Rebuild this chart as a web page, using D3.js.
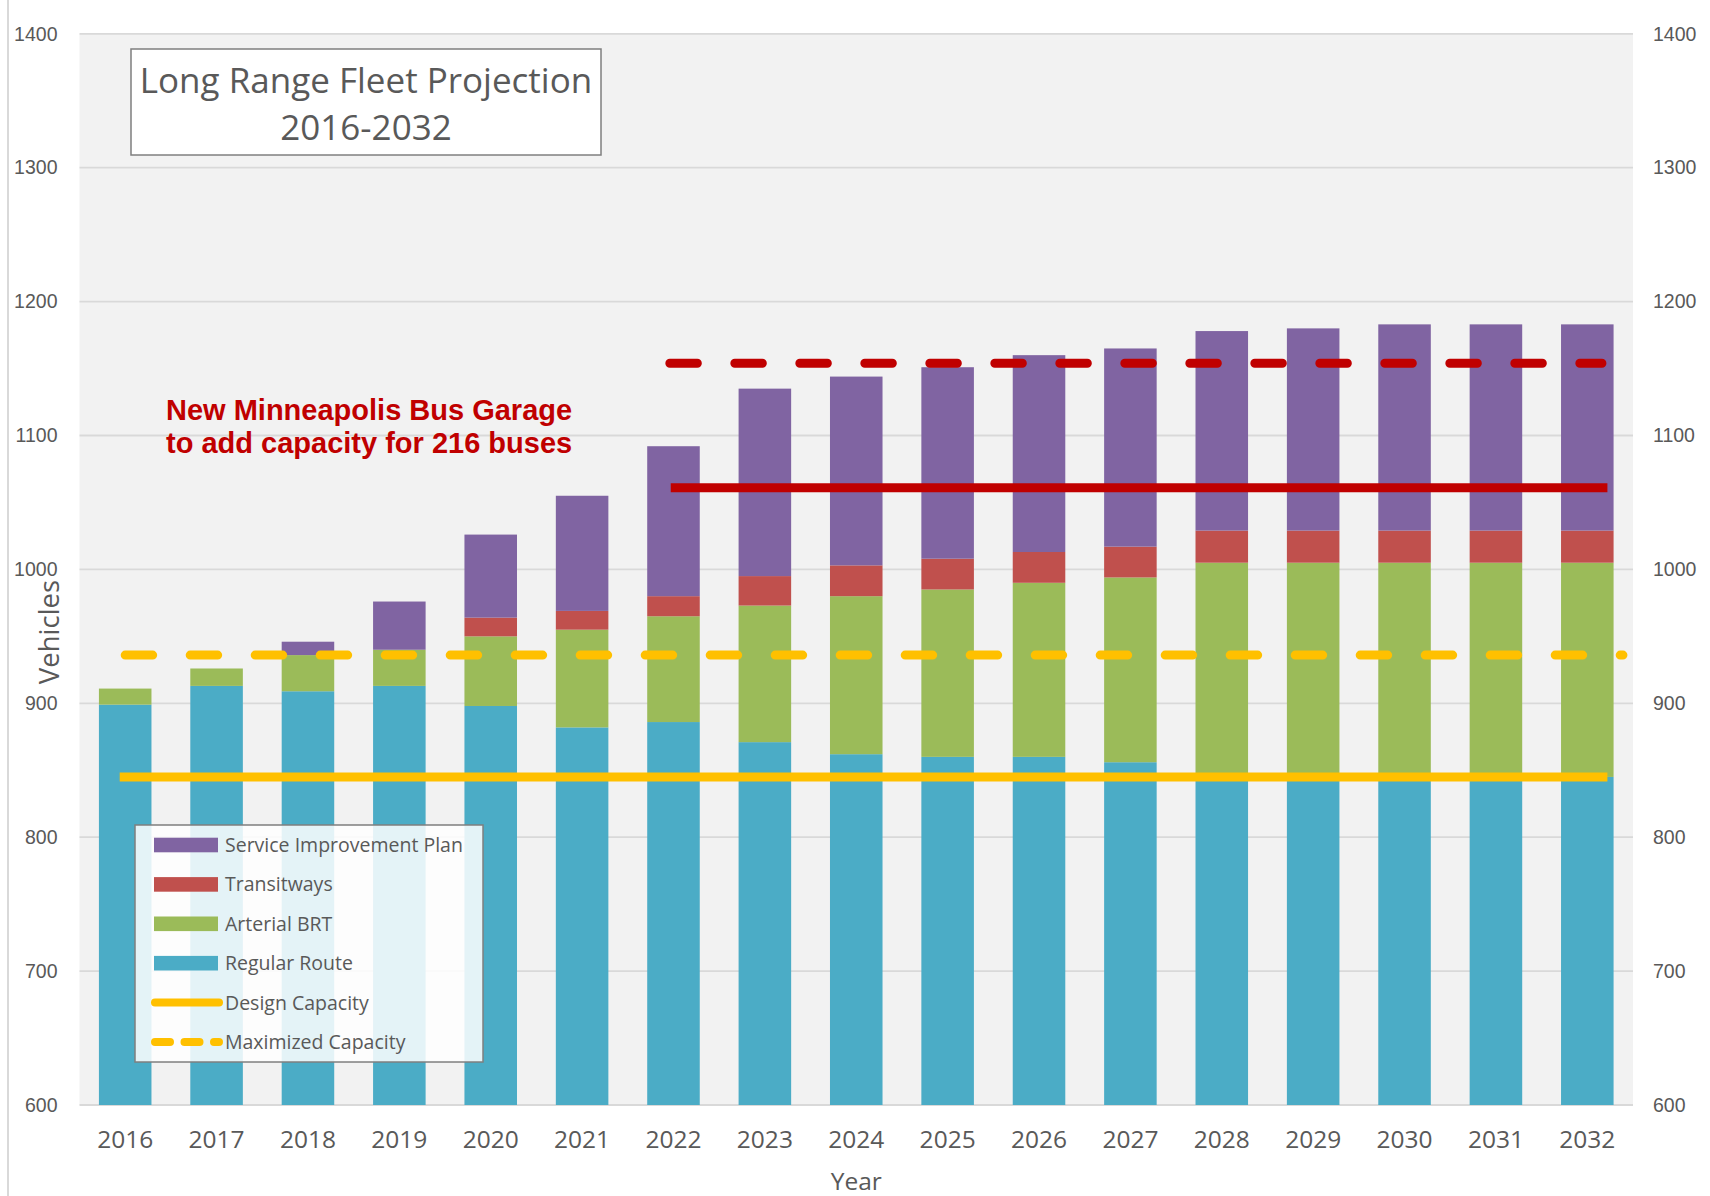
<!DOCTYPE html>
<html>
<head>
<meta charset="utf-8">
<title>Long Range Fleet Projection 2016-2032</title>
<script src="https://cdn.jsdelivr.net/npm/d3@7"></script>
<style>
  body { margin: 0; background: #fff; }
  svg { display: block; }
  .num-tick text { font-family: "Liberation Sans", Arial, sans-serif; font-size: 19.5px; fill: #595959; }
  .year-tick text { font-family: "Open Sans", sans-serif; font-size: 24.5px; fill: #595959; }
  .axis-title { font-family: "Open Sans", sans-serif; fill: #595959; }
  .legend-label { font-family: "Open Sans", sans-serif; font-size: 19.5px; fill: #595959; }
  .chart-title { font-family: "Open Sans", sans-serif; font-size: 35px; fill: #595959; }
  .note { font-family: "Liberation Sans", Arial, sans-serif; font-weight: bold; font-size: 29px; fill: #c00000; }
</style>
</head>
<body>
<svg id="chart" width="1710" height="1196"></svg>
<script>
// ===================================
// Data
// ===================================

const YEARS = [2016, 2017, 2018, 2019, 2020, 2021, 2022, 2023, 2024,
               2025, 2026, 2027, 2028, 2029, 2030, 2031, 2032];

const REGULAR_ROUTE       = [899, 913, 909, 913, 898, 882, 886, 871, 862, 860, 860, 856, 845, 845, 845, 845, 845];
const ARTERIAL_BRT        = [12, 13, 27, 27, 52, 73, 79, 102, 118, 125, 130, 138, 160, 160, 160, 160, 160];
const TRANSITWAYS         = [0, 0, 0, 0, 14, 14, 15, 22, 23, 23, 23, 23, 24, 24, 24, 24, 24];
const SERVICE_IMPROVEMENT = [0, 0, 10, 36, 62, 86, 112, 140, 141, 143, 147, 148, 149, 151, 154, 154, 154];

const Y_TICKS = [600, 700, 800, 900, 1000, 1100, 1200, 1300, 1400];

// Capacity lines: level in vehicles, and the span of years they cover
const CAPACITY_NAMES  = ['Design Capacity', 'Maximized Capacity', 'Garage Design Capacity', 'Garage Maximized Capacity'];
const CAPACITY_VALUES = [845, 936, 1061, 1154];
const CAPACITY_FROM   = [2015.94, 2016.0, 2021.97, 2021.96];
const CAPACITY_TO     = [2032.22, 2032.39, 2032.22, 2032.16];

const LEGEND_ITEMS = ['Service Improvement Plan', 'Transitways', 'Arterial BRT',
                      'Regular Route', 'Design Capacity', 'Maximized Capacity'];

const TITLE_LINES = ['Long Range Fleet Projection', '2016-2032'];
const NOTE_LINES  = ['New Minneapolis Bus Garage', 'to add capacity for 216 buses'];

// ===================================
// Layout and styles
// ===================================

const plot = { left: 79.5, right: 1633, top: 33.8, bottom: 1105 };

const barColors = {
    regular: '#4bacc6',
    brt: '#9bbb59',
    transit: '#c0504d',
    sip: '#8064a2'
};

const lineStyles = {
    'Design Capacity':           { color: '#ffc000', dash: null, cap: 'butt' },
    'Maximized Capacity':        { color: '#ffc000', dash: '27.5 37.5', cap: 'round' },
    'Garage Design Capacity':    { color: '#c00000', dash: null, cap: 'butt' },
    'Garage Maximized Capacity': { color: '#c00000', dash: '27.5 37.5', cap: 'round' }
};

const svg = d3.select('#chart');

// Scales
const x = d3.scaleBand()
    .domain(YEARS)
    .range([plot.left, plot.right])
    .paddingInner(0.425)
    .paddingOuter(0.2125);

const y = d3.scaleLinear()
    .domain([600, 1400])
    .range([plot.bottom, plot.top])
    .clamp(true);

// continuous year scale for the capacity lines (band centres)
const xYear = d3.scaleLinear()
    .domain([YEARS[0], YEARS[YEARS.length - 1]])
    .range([x(YEARS[0]) + x.bandwidth() / 2, x(YEARS[YEARS.length - 1]) + x.bandwidth() / 2]);

// ===================================
// Frame, background, gridlines
// ===================================

svg.append('line')
    .attr('x1', 8).attr('x2', 8)
    .attr('y1', 0).attr('y2', 1196)
    .attr('stroke', '#d9d9d9')
    .attr('stroke-width', 2);

svg.append('rect')
    .attr('x', plot.left)
    .attr('y', plot.top)
    .attr('width', plot.right - plot.left)
    .attr('height', plot.bottom - plot.top)
    .attr('fill', '#f2f2f2');

svg.append('g')
    .selectAll('line')
    .data(Y_TICKS)
    .join('line')
    .attr('x1', plot.left)
    .attr('x2', plot.right)
    .attr('y1', d => y(d))
    .attr('y2', d => y(d))
    .attr('stroke', '#d9d9d9')
    .attr('stroke-width', 1.8);

// ===================================
// Stacked bars
// ===================================

const table = YEARS.map((year, i) => ({
    year,
    regular: REGULAR_ROUTE[i],
    brt: ARTERIAL_BRT[i],
    transit: TRANSITWAYS[i],
    sip: SERVICE_IMPROVEMENT[i]
}));

const stacked = d3.stack().keys(['regular', 'brt', 'transit', 'sip'])(table);

svg.append('g')
    .selectAll('g')
    .data(stacked)
    .join('g')
    .attr('fill', s => barColors[s.key])
    .selectAll('rect')
    .data(s => s.filter(d => d[1] > d[0]))
    .join('rect')
    .attr('x', d => x(d.data.year))
    .attr('width', x.bandwidth())
    .attr('y', d => y(d[1]))
    .attr('height', d => y(d[0]) - y(d[1]));

// ===================================
// Capacity lines
// ===================================

const capacity = CAPACITY_NAMES.map((name, i) => ({
    name,
    value: CAPACITY_VALUES[i],
    from: CAPACITY_FROM[i],
    to: CAPACITY_TO[i]
}));

svg.append('g')
    .selectAll('line')
    .data(capacity)
    .join('line')
    .attr('x1', d => xYear(d.from))
    .attr('x2', d => xYear(d.to))
    .attr('y1', d => y(d.value))
    .attr('y2', d => y(d.value))
    .attr('stroke', d => lineStyles[d.name].color)
    .attr('stroke-width', 9)
    .attr('stroke-linecap', d => lineStyles[d.name].cap)
    .attr('stroke-dasharray', d => lineStyles[d.name].dash);

// ===================================
// Axes
// ===================================

const leftAxis = svg.append('g')
    .attr('class', 'num-tick')
    .attr('transform', `translate(${plot.left},0)`)
    .call(d3.axisLeft(y).tickValues(Y_TICKS).tickFormat(d3.format('d')).tickSize(0).tickPadding(22));

const rightAxis = svg.append('g')
    .attr('class', 'num-tick')
    .attr('transform', `translate(${plot.right},0)`)
    .call(d3.axisRight(y).tickValues(Y_TICKS).tickFormat(d3.format('d')).tickSize(0).tickPadding(20));

const bottomAxis = svg.append('g')
    .attr('class', 'year-tick')
    .attr('transform', `translate(0,${plot.bottom})`)
    .call(d3.axisBottom(x).tickSize(0).tickPadding(25.5));

[leftAxis, rightAxis, bottomAxis].forEach(g => {
    g.select('.domain').remove();
    g.selectAll('text').attr('font-family', null).attr('font-size', null);
});

svg.append('text')
    .attr('class', 'axis-title')
    .attr('x', (plot.left + plot.right) / 2)
    .attr('y', 1190)
    .attr('text-anchor', 'middle')
    .attr('font-size', 24.5)
    .text('Year');

svg.append('text')
    .attr('class', 'axis-title')
    .attr('transform', 'translate(59,632) rotate(-90)')
    .attr('text-anchor', 'middle')
    .attr('font-size', 27.5)
    .text('Vehicles');

// ===================================
// Annotation
// ===================================

svg.append('text')
    .attr('class', 'note')
    .selectAll('tspan')
    .data(NOTE_LINES)
    .join('tspan')
    .attr('x', 166)
    .attr('y', (d, i) => 420 + i * 33)
    .text(d => d);

// ===================================
// Legend
// ===================================

const legend = svg.append('g').attr('transform', 'translate(135,825)');

legend.append('rect')
    .attr('width', 348)
    .attr('height', 237)
    .attr('fill', 'rgba(255,255,255,0.85)')
    .attr('stroke', '#7f7f7f')
    .attr('stroke-width', 1.5);

const legendSwatch = {
    'Service Improvement Plan': barColors.sip,
    'Transitways': barColors.transit,
    'Arterial BRT': barColors.brt,
    'Regular Route': barColors.regular
};

const rows = legend.selectAll('g.row')
    .data(LEGEND_ITEMS)
    .join('g')
    .attr('class', 'row')
    .attr('transform', (d, i) => `translate(0,${20 + i * 39.4})`);

rows.each(function (name) {
    const row = d3.select(this);
    if (legendSwatch[name]) {
        row.append('rect')
            .attr('x', 19)
            .attr('y', -7.3)
            .attr('width', 64)
            .attr('height', 14.6)
            .attr('fill', legendSwatch[name]);
    } else {
        row.append('line')
            .attr('x1', 20).attr('x2', 84)
            .attr('stroke', lineStyles[name].color)
            .attr('stroke-width', 8)
            .attr('stroke-linecap', 'round')
            .attr('stroke-dasharray', lineStyles[name].dash ? '15 14.5' : null);
    }
    row.append('text')
        .attr('class', 'legend-label')
        .attr('x', 90)
        .attr('y', 7)
        .text(name);
});

// ===================================
// Title box
// ===================================

svg.append('rect')
    .attr('x', 131)
    .attr('y', 49)
    .attr('width', 470)
    .attr('height', 106)
    .attr('fill', '#fff')
    .attr('stroke', '#7f7f7f')
    .attr('stroke-width', 1.5);

svg.append('text')
    .attr('class', 'chart-title')
    .attr('text-anchor', 'middle')
    .selectAll('tspan')
    .data(TITLE_LINES)
    .join('tspan')
    .attr('x', 366)
    .attr('y', (d, i) => 93 + i * 46.5)
    .text(d => d);
</script>
</body>
</html>
